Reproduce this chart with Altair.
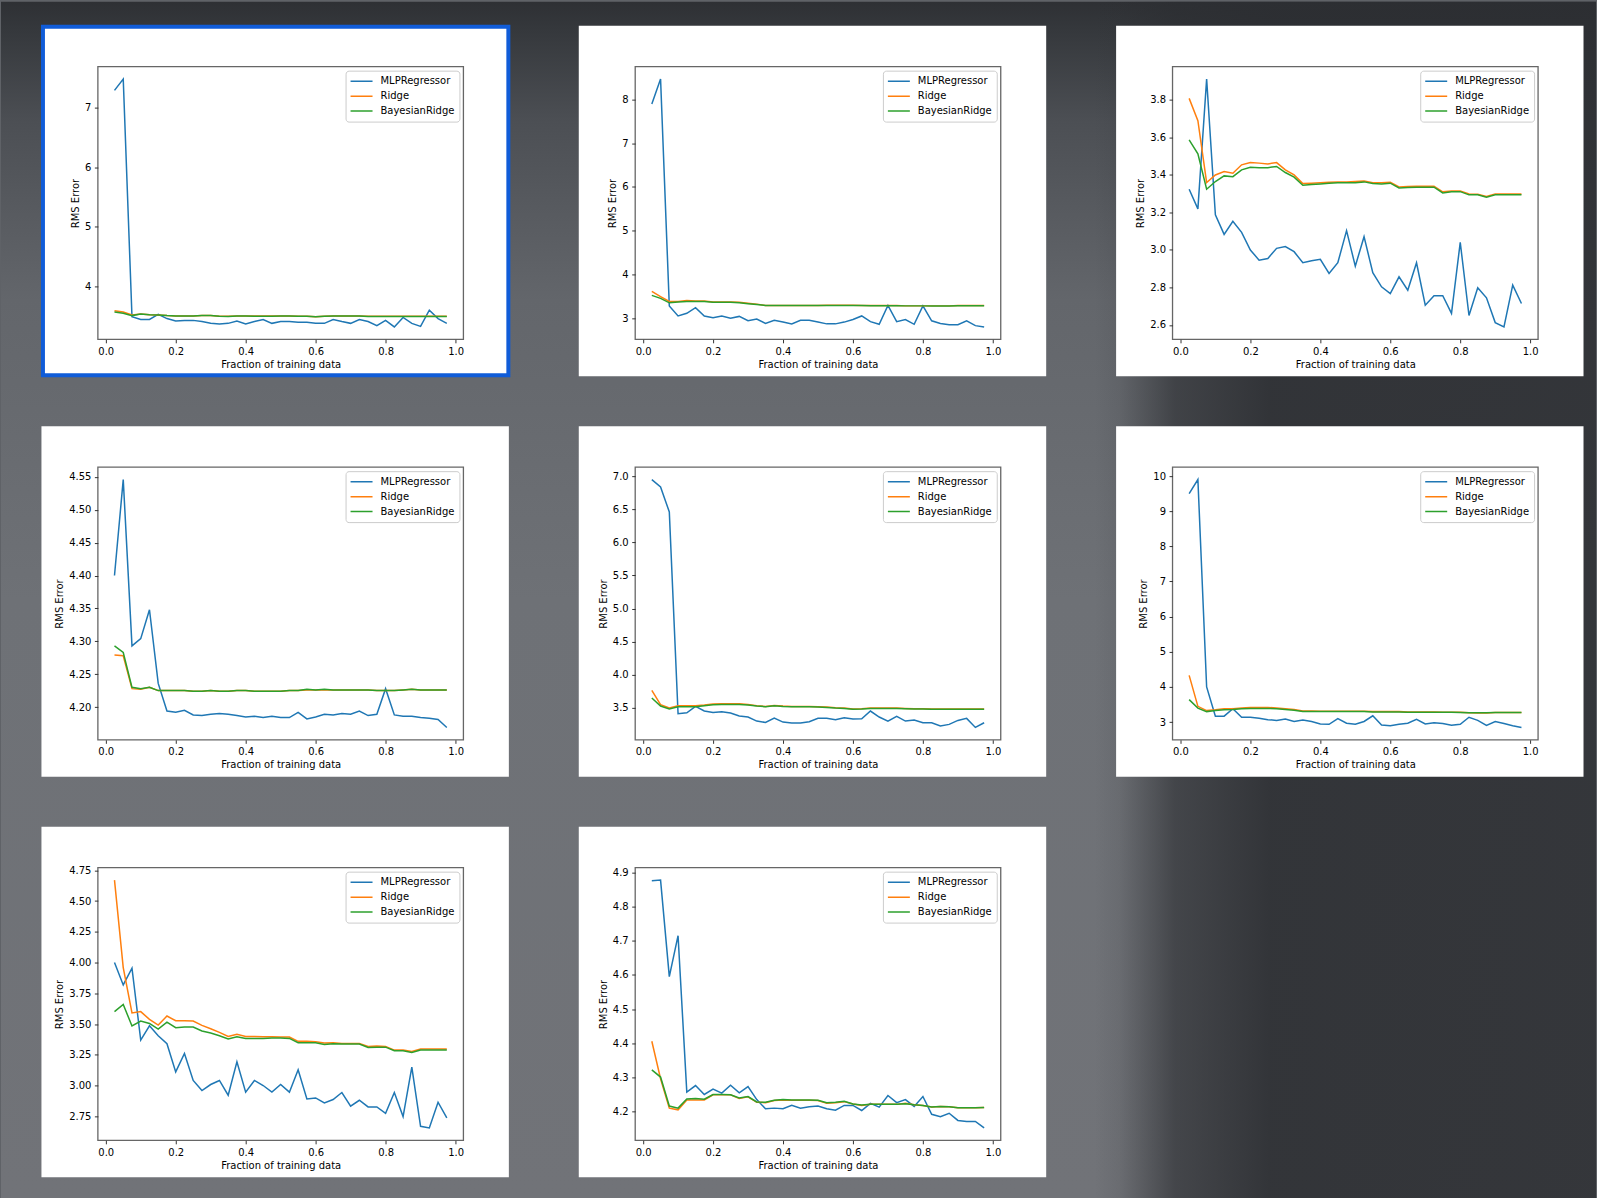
import altair as alt
import pandas as pd

# ---------------- data ----------------
X = [0.025, 0.05, 0.075, 0.1, 0.125, 0.15, 0.175, 0.2, 0.225, 0.25,
     0.275, 0.3, 0.325, 0.35, 0.375, 0.4, 0.425, 0.45, 0.475, 0.5,
     0.525, 0.55, 0.575, 0.6, 0.625, 0.65, 0.675, 0.7, 0.725, 0.75,
     0.775, 0.8, 0.825, 0.85, 0.875, 0.9, 0.925, 0.95, 0.975]

MODELS = ["MLPRegressor", "Ridge", "BayesianRidge"]
COLORS = ["#1f77b4", "#ff7f0e", "#2ca02c"]
X_TICKS = [0.0, 0.2, 0.4, 0.6, 0.8, 1.0]

MLP1 = [7.29, 7.48, 3.49, 3.445, 3.445, 3.53, 3.46, 3.42, 3.43, 3.43, 3.41, 3.38, 3.37, 3.38, 3.42, 3.37, 3.41, 3.445, 3.38, 3.41,
        3.41, 3.40, 3.40, 3.38, 3.38, 3.445, 3.41, 3.38, 3.445, 3.41, 3.34, 3.43, 3.32, 3.48, 3.38, 3.33, 3.60, 3.46, 3.38]
RIDGE1 = [3.59, 3.57, 3.52, 3.535, 3.525, 3.52, 3.51, 3.505, 3.505, 3.505, 3.51, 3.51, 3.50, 3.50, 3.505, 3.505, 3.505, 3.505, 3.505, 3.505,
          3.505, 3.50, 3.50, 3.49, 3.50, 3.505, 3.505, 3.505, 3.505, 3.50, 3.50, 3.50, 3.50, 3.50, 3.50, 3.50, 3.50, 3.50, 3.50]
BAYES1 = [3.57, 3.55, 3.51, 3.535, 3.525, 3.52, 3.51, 3.505, 3.505, 3.505, 3.51, 3.51, 3.50, 3.495, 3.505, 3.505, 3.50, 3.50, 3.50, 3.505,
          3.505, 3.50, 3.50, 3.49, 3.50, 3.505, 3.505, 3.505, 3.505, 3.495, 3.495, 3.495, 3.495, 3.495, 3.495, 3.495, 3.495, 3.495, 3.495]
TICKS1 = [4, 5, 6, 7]

MLP2 = [7.89, 8.46, 3.29, 3.06, 3.12, 3.25, 3.06, 3.02, 3.06, 3.01, 3.05, 2.95, 2.99, 2.89, 2.96, 2.92, 2.88, 2.96, 2.96, 2.92,
        2.88, 2.88, 2.92, 2.98, 3.06, 2.93, 2.87, 3.30, 2.93, 2.98, 2.87, 3.29, 2.95, 2.89, 2.86, 2.86, 2.95, 2.84, 2.81]
RIDGE2 = [3.62, 3.50, 3.39, 3.39, 3.41, 3.40, 3.40, 3.38, 3.38, 3.38, 3.37, 3.35, 3.33, 3.30, 3.30, 3.30, 3.30, 3.30, 3.30, 3.30,
          3.305, 3.305, 3.305, 3.305, 3.30, 3.30, 3.30, 3.30, 3.30, 3.29, 3.29, 3.29, 3.29, 3.29, 3.29, 3.30, 3.30, 3.30, 3.30]
BAYES2 = [3.53, 3.46, 3.36, 3.38, 3.39, 3.39, 3.39, 3.37, 3.37, 3.37, 3.36, 3.34, 3.32, 3.30, 3.30, 3.30, 3.30, 3.30, 3.30, 3.30,
          3.30, 3.30, 3.30, 3.30, 3.30, 3.295, 3.295, 3.295, 3.295, 3.29, 3.29, 3.29, 3.285, 3.285, 3.285, 3.295, 3.295, 3.295, 3.295]
TICKS2 = [3, 4, 5, 6, 7, 8]

MLP3 = [3.323, 3.218, 3.910, 3.186, 3.082, 3.152, 3.093, 2.999, 2.945, 2.954, 3.008, 3.017, 2.990, 2.931, 2.942, 2.949, 2.874, 2.931, 3.102, 2.913,
        3.070, 2.878, 2.803, 2.767, 2.856, 2.785, 2.931, 2.705, 2.755, 2.755, 2.661, 3.040, 2.650, 2.798, 2.744, 2.612, 2.589, 2.812, 2.714]
RIDGE3 = [3.807, 3.688, 3.358, 3.399, 3.417, 3.408, 3.453, 3.465, 3.462, 3.458, 3.465, 3.426, 3.399, 3.353, 3.355, 3.357, 3.360, 3.362, 3.362, 3.364,
          3.367, 3.358, 3.357, 3.360, 3.335, 3.337, 3.339, 3.339, 3.339, 3.309, 3.314, 3.314, 3.298, 3.296, 3.284, 3.298, 3.298, 3.298, 3.298]
BAYES3 = [3.586, 3.512, 3.323, 3.364, 3.394, 3.390, 3.426, 3.440, 3.438, 3.438, 3.444, 3.412, 3.387, 3.344, 3.348, 3.351, 3.355, 3.357, 3.357, 3.358,
          3.362, 3.353, 3.351, 3.355, 3.330, 3.332, 3.334, 3.334, 3.334, 3.303, 3.309, 3.310, 3.293, 3.293, 3.280, 3.293, 3.293, 3.293, 3.293]
TICKS3 = [2.6, 2.8, 3.0, 3.2, 3.4, 3.6, 3.8]

MLP4 = [4.400, 4.546, 4.293, 4.304, 4.348, 4.236, 4.194, 4.192, 4.195, 4.188, 4.187, 4.189, 4.190, 4.189, 4.187, 4.185, 4.186, 4.184, 4.186, 4.184,
        4.184, 4.192, 4.182, 4.185, 4.189, 4.188, 4.190, 4.189, 4.194, 4.187, 4.189, 4.228, 4.188, 4.186, 4.186, 4.184, 4.183, 4.181, 4.169]
RIDGE4 = [4.279, 4.278, 4.228, 4.227, 4.230, 4.225, 4.225, 4.225, 4.225, 4.224, 4.224, 4.225, 4.224, 4.224, 4.225, 4.225, 4.224, 4.224, 4.224, 4.224,
          4.225, 4.225, 4.226, 4.226, 4.226, 4.226, 4.226, 4.226, 4.226, 4.226, 4.225, 4.225, 4.225, 4.226, 4.227, 4.226, 4.226, 4.226, 4.226]
BAYES4 = [4.293, 4.283, 4.230, 4.228, 4.230, 4.225, 4.225, 4.225, 4.225, 4.224, 4.224, 4.225, 4.224, 4.224, 4.225, 4.225, 4.224, 4.224, 4.224, 4.224,
          4.225, 4.225, 4.227, 4.226, 4.227, 4.226, 4.226, 4.226, 4.226, 4.226, 4.225, 4.225, 4.225, 4.226, 4.227, 4.226, 4.226, 4.226, 4.226]
TICKS4 = [4.20, 4.25, 4.30, 4.35, 4.40, 4.45, 4.50, 4.55]

MLP5 = [6.949, 6.838, 6.460, 3.409, 3.424, 3.520, 3.450, 3.429, 3.439, 3.419, 3.374, 3.359, 3.298, 3.278, 3.344, 3.283, 3.268, 3.268, 3.288, 3.339,
        3.339, 3.318, 3.349, 3.329, 3.334, 3.450, 3.359, 3.298, 3.369, 3.298, 3.313, 3.273, 3.273, 3.223, 3.248, 3.308, 3.339, 3.202, 3.273]
RIDGE5 = [3.762, 3.545, 3.495, 3.530, 3.530, 3.530, 3.540, 3.555, 3.560, 3.560, 3.560, 3.550, 3.530, 3.520, 3.535, 3.525, 3.520, 3.520, 3.520, 3.515,
          3.510, 3.500, 3.495, 3.480, 3.485, 3.495, 3.495, 3.495, 3.495, 3.490, 3.485, 3.485, 3.480, 3.480, 3.480, 3.480, 3.480, 3.480, 3.480]
BAYES5 = [3.646, 3.525, 3.480, 3.515, 3.515, 3.515, 3.530, 3.545, 3.550, 3.550, 3.550, 3.540, 3.525, 3.515, 3.530, 3.520, 3.515, 3.515, 3.515, 3.510,
          3.505, 3.495, 3.490, 3.478, 3.482, 3.490, 3.490, 3.490, 3.490, 3.485, 3.480, 3.480, 3.475, 3.475, 3.475, 3.475, 3.475, 3.475, 3.475]
TICKS5 = [3.5, 4.0, 4.5, 5.0, 5.5, 6.0, 6.5, 7.0]

MLP6 = [9.50, 9.90, 4.00, 3.17, 3.17, 3.38, 3.14, 3.14, 3.11, 3.07, 3.05, 3.09, 3.02, 3.06, 3.02, 2.95, 2.94, 3.10, 2.97, 2.94,
        3.02, 3.18, 2.92, 2.90, 2.94, 2.97, 3.08, 2.95, 2.98, 2.96, 2.91, 2.94, 3.14, 3.05, 2.91, 3.02, 2.96, 2.90, 2.85]
RIDGE6 = [4.33, 3.45, 3.33, 3.35, 3.38, 3.38, 3.40, 3.42, 3.42, 3.42, 3.40, 3.38, 3.36, 3.32, 3.32, 3.31, 3.31, 3.31, 3.31, 3.31,
          3.31, 3.30, 3.30, 3.30, 3.30, 3.29, 3.29, 3.29, 3.29, 3.285, 3.285, 3.28, 3.27, 3.26, 3.26, 3.275, 3.275, 3.275, 3.275]
BAYES6 = [3.64, 3.40, 3.30, 3.33, 3.35, 3.36, 3.38, 3.39, 3.39, 3.39, 3.38, 3.36, 3.34, 3.30, 3.30, 3.30, 3.30, 3.30, 3.30, 3.30,
          3.30, 3.29, 3.29, 3.29, 3.29, 3.285, 3.285, 3.285, 3.285, 3.28, 3.28, 3.275, 3.27, 3.27, 3.27, 3.275, 3.275, 3.275, 3.275]
TICKS6 = [3, 4, 5, 6, 7, 8, 9, 10]

MLP7 = [4.000, 3.818, 3.954, 3.370, 3.486, 3.405, 3.340, 3.111, 3.261, 3.041, 2.959, 3.008, 3.041, 2.921, 3.193, 2.946, 3.041, 3.000, 2.946, 3.008,
        2.946, 3.128, 2.891, 2.899, 2.859, 2.886, 2.943, 2.832, 2.880, 2.826, 2.826, 2.774, 2.943, 2.747, 3.149, 2.668, 2.655, 2.864, 2.736]
RIDGE7 = [4.671, 3.959, 3.590, 3.601, 3.538, 3.492, 3.565, 3.527, 3.527, 3.524, 3.489, 3.462, 3.432, 3.399, 3.416, 3.399, 3.399, 3.397, 3.397, 3.394,
          3.394, 3.359, 3.359, 3.356, 3.345, 3.348, 3.342, 3.342, 3.342, 3.318, 3.321, 3.318, 3.288, 3.288, 3.277, 3.296, 3.296, 3.296, 3.296]
BAYES7 = [3.601, 3.660, 3.484, 3.524, 3.505, 3.459, 3.516, 3.470, 3.476, 3.476, 3.443, 3.427, 3.405, 3.378, 3.397, 3.383, 3.383, 3.383, 3.386, 3.386,
          3.383, 3.348, 3.348, 3.348, 3.334, 3.340, 3.337, 3.337, 3.337, 3.310, 3.312, 3.312, 3.283, 3.283, 3.269, 3.288, 3.288, 3.288, 3.288]
TICKS7 = [2.75, 3.00, 3.25, 3.50, 3.75, 4.00, 4.25, 4.50, 4.75]

MLP8 = [4.876, 4.878, 4.595, 4.715, 4.257, 4.276, 4.250, 4.266, 4.254, 4.277, 4.255, 4.273, 4.235, 4.208, 4.210, 4.208, 4.218, 4.210, 4.214, 4.216,
        4.208, 4.204, 4.218, 4.218, 4.203, 4.224, 4.213, 4.247, 4.226, 4.235, 4.215, 4.244, 4.192, 4.185, 4.195, 4.174, 4.171, 4.171, 4.152]
RIDGE8 = [4.406, 4.296, 4.210, 4.205, 4.234, 4.234, 4.234, 4.249, 4.249, 4.249, 4.238, 4.243, 4.227, 4.226, 4.232, 4.234, 4.233, 4.233, 4.233, 4.232,
          4.224, 4.226, 4.229, 4.222, 4.218, 4.221, 4.221, 4.221, 4.221, 4.224, 4.220, 4.218, 4.213, 4.215, 4.214, 4.211, 4.211, 4.211, 4.212]
BAYES8 = [4.322, 4.301, 4.216, 4.210, 4.237, 4.238, 4.236, 4.250, 4.250, 4.249, 4.240, 4.244, 4.228, 4.227, 4.233, 4.235, 4.234, 4.234, 4.234, 4.233,
          4.226, 4.227, 4.230, 4.222, 4.219, 4.221, 4.221, 4.221, 4.221, 4.223, 4.220, 4.218, 4.213, 4.215, 4.214, 4.211, 4.211, 4.211, 4.212]
TICKS8 = [4.2, 4.3, 4.4, 4.5, 4.6, 4.7, 4.8, 4.9]

PANELS = [
    (MLP1, RIDGE1, BAYES1, TICKS1, "d"),
    (MLP2, RIDGE2, BAYES2, TICKS2, "d"),
    (MLP3, RIDGE3, BAYES3, TICKS3, ".1f"),
    (MLP4, RIDGE4, BAYES4, TICKS4, ".2f"),
    (MLP5, RIDGE5, BAYES5, TICKS5, ".1f"),
    (MLP6, RIDGE6, BAYES6, TICKS6, "d"),
    (MLP7, RIDGE7, BAYES7, TICKS7, ".2f"),
    (MLP8, RIDGE8, BAYES8, TICKS8, ".1f"),
]

# ---------------- styling ----------------
FONT = "DejaVu Sans"
W, H = 366, 273           # plot area of each panel
COL_GAP, ROW_GAP = 172, 128
CANVAS_W, CANVAS_H = 1597, 1198
ORIGIN_X, ORIGIN_Y = 97, 65   # first plot area's top-left on the page

BG_GRADIENT = {
    "gradient": "linear", "x1": 0, "y1": 0, "x2": 0, "y2": 1,
    "stops": [
        {"offset": 0.0, "color": "#2e3034"},
        {"offset": 0.02, "color": "#34373b"},
        {"offset": 0.10, "color": "#4c4f54"},
        {"offset": 0.25, "color": "#63666b"},
        {"offset": 0.50, "color": "#6e7176"},
        {"offset": 1.0, "color": "#717378"},
    ],
}
DARK_GRADIENT = {
    "gradient": "linear", "x1": 0, "y1": 0, "x2": 1, "y2": 0,
    "stops": [
        {"offset": 0.0, "color": "rgba(44,46,50,0)"},
        {"offset": 0.05, "color": "rgba(44,46,50,0.1)"},
        {"offset": 0.16, "color": "rgba(44,46,50,0.65)"},
        {"offset": 0.35, "color": "rgba(44,46,50,0.9)"},
        {"offset": 1.0, "color": "rgba(44,46,50,0.88)"},
    ],
}

ONE = alt.Data(values=[{"k": 0}])


def make_panel(i, mlp, ridge, bayes, ticks, fmt):
    rows = []
    for name, vals in zip(MODELS, (mlp, ridge, bayes)):
        for xv, v in zip(X, vals):
            rows.append({"fraction": xv, "rms": v, "model": name})
    df = pd.DataFrame(rows)

    allv = list(mlp) + list(ridge) + list(bayes)
    lo, hi = min(allv), max(allv)
    ypad = 0.05 * (hi - lo)
    xpad = 0.05 * (X[-1] - X[0])

    layers = []
    if i == 0:
        layers.append(
            alt.Chart(ONE).mark_rect(fill=BG_GRADIENT).encode(
                x=alt.value(-ORIGIN_X), x2=alt.value(CANVAS_W - ORIGIN_X),
                y=alt.value(-ORIGIN_Y), y2=alt.value(CANVAS_H - ORIGIN_Y)))
        layers.append(
            alt.Chart(ONE).mark_rect(fill=DARK_GRADIENT).encode(
                x=alt.value(1095 - ORIGIN_X), x2=alt.value(CANVAS_W - ORIGIN_X),
                y=alt.value(-ORIGIN_Y), y2=alt.value(CANVAS_H - ORIGIN_Y)))
        card = alt.Chart(ONE).mark_rect(fill="white", stroke="#105cd8", strokeWidth=4).encode(
            x=alt.value(-55), x2=alt.value(W + 45), y=alt.value(-40), y2=alt.value(H + 36))
    else:
        card = alt.Chart(ONE).mark_rect(fill="white").encode(
            x=alt.value(-56.5), x2=alt.value(W + 45.5), y=alt.value(-41), y2=alt.value(H + 37))
    layers.append(card)

    axis_common = dict(
        grid=False, domain=False, tickSize=3.5, tickColor="#333333", tickWidth=1,
        labelFont=FONT, labelFontSize=10, labelColor="#000000", labelPadding=3.5,
        titleFont=FONT, titleFontSize=10, titleFontWeight="normal", titleColor="#000000",
        labelFlush=False, labelOverlap=False, zindex=1,
    )

    lines = alt.Chart(df).mark_line(strokeWidth=1.5).encode(
        x=alt.X("fraction:Q",
                scale=alt.Scale(domain=[X[0] - xpad, X[-1] + xpad], nice=False, zero=False),
                axis=alt.Axis(values=X_TICKS, format=".1f", title="Fraction of training data",
                              titlePadding=3, **axis_common)),
        y=alt.Y("rms:Q",
                scale=alt.Scale(domain=[lo - ypad, hi + ypad], nice=False, zero=False),
                axis=alt.Axis(values=ticks, format=fmt, title="RMS Error",
                              titlePadding=4, **axis_common)),
        color=alt.Color("model:N",
                        scale=alt.Scale(domain=MODELS, range=COLORS),
                        legend=alt.Legend(
                            orient="none", legendX=248, legendY=4, title=None,
                            symbolType="stroke", symbolSize=484, symbolStrokeWidth=1.5,
                            clipHeight=13, rowPadding=2, padding=4, labelOffset=7,
                            strokeColor="#cccccc", fillColor="#ffffff", cornerRadius=3,
                            labelFont=FONT, labelFontSize=10, labelColor="#000000",
                            labelLimit=300, zindex=1)),
    )
    layers.append(lines)

    frame = alt.Chart(ONE).mark_rect(fillOpacity=0, stroke="#666666", strokeWidth=1.3).encode(
        x=alt.value(0), x2=alt.value(W), y=alt.value(0), y2=alt.value(H))
    layers.append(frame)

    return alt.layer(*layers).properties(width=W, height=H)


panels = [make_panel(i, *p) for i, p in enumerate(PANELS)]

chart = alt.concat(
    *panels, columns=3, spacing={"row": ROW_GAP, "column": COL_GAP}, bounds="flush"
).resolve_scale(
    color="independent"
).resolve_legend(
    color="independent"
).properties(
    padding=0, background="#5f6267"
).configure(
    font=FONT
).configure_view(
    stroke="transparent"
)

chart.save("out.html", embed_options={"renderer": "svg", "actions": False})
